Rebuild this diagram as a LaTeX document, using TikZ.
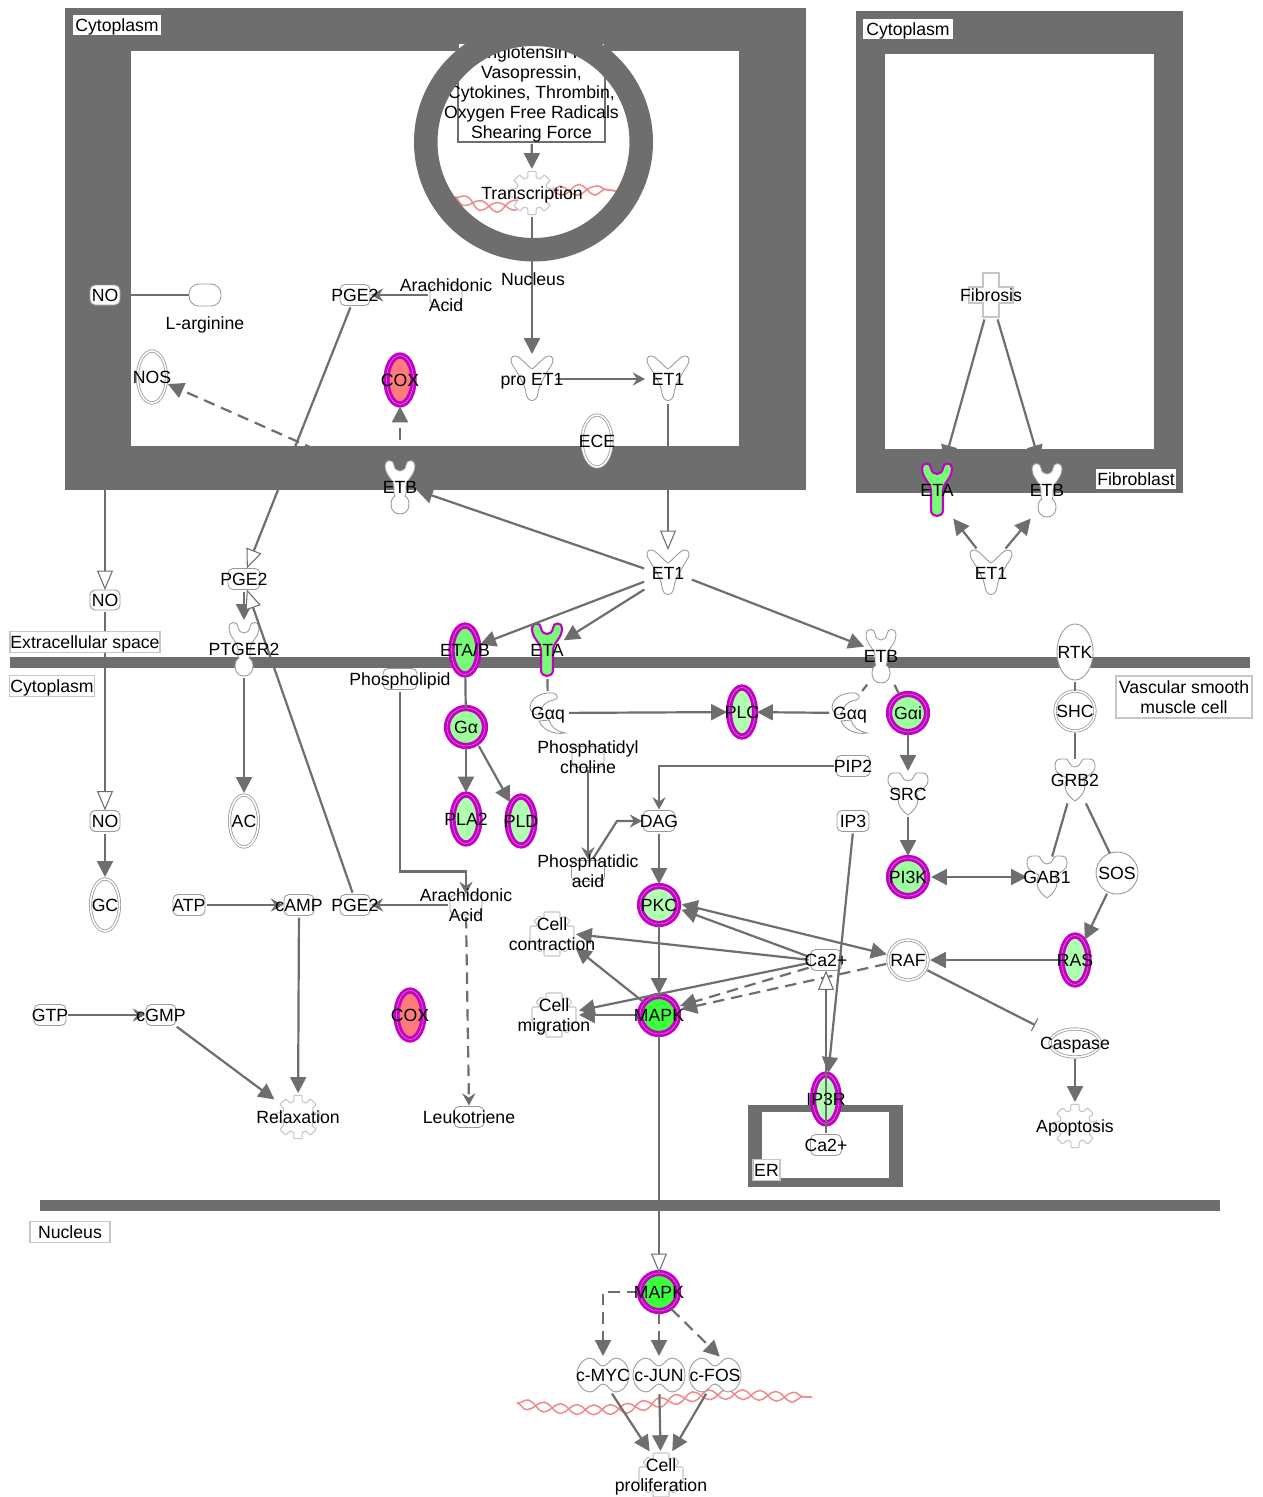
\documentclass[tikz,border=0pt]{standalone}
\usepackage{fontspec}
\setmainfont{Liberation Sans}
\usetikzlibrary{arrows.meta,shapes.geometric,decorations.pathmorphing}

\definecolor{bargray}{HTML}{6E6E6E}
\definecolor{edgegray}{HTML}{9A9A9A}
\definecolor{palegray}{HTML}{C6C6C6}
\definecolor{hitmag}{HTML}{C400C4}
\definecolor{hitpale}{HTML}{D870D8}
\definecolor{dnapink}{HTML}{F08A8A}
\definecolor{coxred}{HTML}{FF7A7A}
\definecolor{grnA}{HTML}{3CFF3C}
\definecolor{grnB}{HTML}{78FA78}
\definecolor{grnC}{HTML}{9CFF9C}
\definecolor{grnD}{HTML}{B0FFB0}

\tikzset{
	sz/.style 2 args={minimum width=#1*0.02cm,minimum height=#2*0.02cm},
	hold/.style={inner sep=0pt,outer sep=0pt},
	txt/.style={execute at begin node={\rule{0pt}{9.6pt}},execute at end node={\rule[-2.2pt]{0pt}{2.2pt}}},
	outl/.style={draw=edgegray,fill=white,line width=0.5pt},
	chem/.style={hold,outl,rounded corners=0.1cm},
	enz/.style={hold,ellipse,draw=edgegray,fill=white,line width=0.45pt,double=white,double distance=0.9pt},
	oval/.style={hold,ellipse,outl},
	hit/.style={hold,ellipse,draw=hitmag,fill=#1,line width=1.6pt,double=hitpale,double distance=0.35pt},
	tag/.style={hold,txt,fill=white,draw=palegray,line width=0.6pt},
	bar/.style={fill=bargray},
	link/.style={draw=bargray,line width=1.25pt,shorten <=0.04cm},
	act/.style={link,-{Triangle[length=9pt,width=9pt]},shorten >=0.04cm},
	small/.style={link,-{Stealth[length=7pt,width=7.5pt,inset=2.5pt]},shorten >=0.02cm},
	hollow/.style={link,-{Triangle[length=11pt,width=9pt,fill=white,line width=0.6pt]}},
	dashy/.style={dash pattern=on 6.5pt off 4pt},
	dna/.style={draw=dnapink,line width=0.85pt,decorate,decoration={snake,segment length=19pt,amplitude=2.8pt,#1}},
	dna/.default={},
	gearP/.pic={\filldraw[draw=palegray,fill=white,line width=0.6pt,rounded corners=0.02cm] (-11:22)
		\foreach \a in {0,45,...,315} {-- (\a-11:22) -- (\a+11:22) -- (\a+15:16) -- (\a+30:16)} -- cycle;},
	crossP/.pic={\filldraw[draw=palegray,fill=white,line width=0.6pt] (-8,-22) -- (8,-22) -- (8,-8) -- (22,-8) -- (22,8) -- (8,8)
		-- (8,22) -- (-8,22) -- (-8,8) -- (-22,8) -- (-22,-8) -- (-8,-8) -- cycle;},
	knobP/.pic={\filldraw[draw=palegray,fill=white,line width=0.6pt,rounded corners=0.02cm] (-8,-22) -- (8,-22) -- (8,-15) -- (13,-18) -- (18,-13) -- (14,-8)
		-- (22,-8) -- (22,8) -- (14,8) -- (18,13) -- (13,18) -- (8,15) -- (8,22) -- (-8,22) -- (-8,15) -- (-13,18)
		-- (-18,13) -- (-14,8) -- (-22,8) -- (-22,-8) -- (-14,-8) -- (-18,-13) -- (-13,-18) -- (-8,-15) -- cycle;},
	recepB/.pic={\filldraw[outl] (-15,-22) .. controls (-15,-28) and (-6,-28) .. (-6,-22) .. controls (-5,-14) and (5,-14) .. (6,-22)
		.. controls (6,-28) and (15,-28) .. (15,-22) .. controls (15,-11) and (7,-9) .. (6,0) -- (6,7) -- (5,9)
		.. controls (11,12) and (11,27) .. (0,27) .. controls (-11,27) and (-11,12) .. (-5,9) -- (-6,7) -- (-6,0)
		.. controls (-7,-9) and (-15,-11) .. (-15,-22) -- cycle;},
	recepA/.pic={\filldraw[draw=hitmag,fill=grnB,line width=1.2pt] (-15,-22) .. controls (-15,-28) and (-6,-28) .. (-6,-22) .. controls (-5,-14) and (5,-14) .. (6,-22)
		.. controls (6,-28) and (15,-28) .. (15,-22) .. controls (15,-11) and (7,-9) .. (6,0) -- (6,20)
		.. controls (6,28) and (-6,28) .. (-6,20) -- (-6,0)
		.. controls (-7,-9) and (-15,-11) .. (-15,-22) -- cycle;},
	ligV/.pic={\filldraw[outl] (0,-10) .. controls (-6,-14) and (-12,-23) .. (-17,-23) .. controls (-21,-23) and (-22,-19) .. (-20,-15)
		.. controls (-14,-5) and (-7,5) .. (-6,14) .. controls (-5,24) and (5,24) .. (6,14) .. controls (7,5) and (14,-5) .. (20,-15)
		.. controls (22,-19) and (21,-23) .. (17,-23) .. controls (12,-23) and (6,-14) .. (0,-10) -- cycle;},
	adaptP/.pic={\filldraw[outl] (-20,-14) .. controls (-20,-19) and (-18,-21) .. (-14,-21) -- (-9,-21) .. controls (-6,-21) and (-6,-13) .. (0,-13)
		.. controls (6,-13) and (6,-21) .. (9,-21) -- (14,-21) .. controls (18,-21) and (20,-19) .. (20,-14)
		.. controls (20,-6) and (12,-4) .. (8,-2) .. controls (12,6) and (10,14) .. (0,21) .. controls (-10,14) and (-12,6) .. (-8,-2)
		.. controls (-12,-4) and (-20,-6) .. (-20,-14) -- cycle;},
	gprotP/.pic={\filldraw[outl] (-18,-6) .. controls (-17,-16) and (-6,-21) .. (5,-20) .. controls (10,-19) and (11,-14) .. (6,-13)
		.. controls (-3,-12) and (-7,-6) .. (-9,2) .. controls (-14,2) and (-18,-1) .. (-18,-6) -- cycle;
		\filldraw[outl] (-9,8) .. controls (-6,16) and (5,22) .. (17,20) .. controls (8,18) and (3,14) .. (1,7) -- cycle;},
	peanutP/.pic={\filldraw[outl] (-26,0) .. controls (-26,-11) and (-18,-17) .. (-13,-17) .. controls (-7,-17) and (-5,-9) .. (0,-9)
		.. controls (5,-9) and (7,-17) .. (13,-17) .. controls (18,-17) and (26,-11) .. (26,0)
		.. controls (26,11) and (18,17) .. (13,17) .. controls (7,17) and (5,9) .. (0,9)
		.. controls (-5,9) and (-7,17) .. (-13,17) .. controls (-18,17) and (-26,11) .. (-26,0) -- cycle;},
}
% holder node with a drawn glyph on it
\newcommand{\glyph}[5]{\node[hold,sz={#3}{#4}] (#1) at (#2) {}; \pic at (#1) {#5};}
\newcommand{\dnastrand}[1]{\draw[dna] #1; \draw[dna=mirror] #1;}

\begin{document}
\begin{tikzpicture}[x=0.02cm,y=-0.02cm,every node/.style={font=\fontsize{10.05}{11.4}\selectfont,align=center}]
	\useasboundingbox (0,0) rectangle (1262,1497);
	\fill[white] (0,0) rectangle (1262,1497);
	% compartments
	\fill[bar] (65,8) rectangle (806,490);
	\fill[white] (131,51) rectangle (739,446);
	\fill[bar] (856,11) rectangle (1183,493);
	\fill[white] (885,54) rectangle (1154,449);
	\fill[bar] (10,657) rectangle (1250,668);
	\fill[bar] (40,1200) rectangle (1220,1211);
	\fill[bar] (748,1105) rectangle (903,1187);
	\fill[white] (762,1112) rectangle (889,1178);

	% nucleus of the top cell
	\node[hold,fill=white,draw=bargray,line width=1.15pt,sz={147}{99}] (Stim) at (531.5,92.5) {};
	\node[txt,yshift=-0.03cm] (Stim-t) at (Stim) {Angiotensin II,\\Vasopressin,\\Cytokines, Thrombin,\\Oxygen Free Radicals\\Shearing Force};
	\dnastrand{(455,197) .. controls (475,205) and (495,207) .. (513,200) .. controls (530,192) and (550,186) .. (580,188) .. controls (595,188) and (610,190) .. (622,192)}
	\glyph{Transc}{532,193}{44}{44}{gearP}
	\glyph{proET}{532,379}{44}{46}{ligV}
	\draw[act] (Stim) -- (Transc);
	\draw[act] (Transc) -- (proET);
	\path[bar,even odd rule] (533.5,142) circle[radius=119.5] (533.5,142) circle[radius=96];

	% molecules
	\node[chem,sz={30}{20}] (NOa) at (105,295) {};
	\node[chem,rounded corners=0.2cm,sz={32}{22}] (Larg) at (205,295) {};
	\node[chem,sz={30}{21}] (PGEa) at (355,295) {};
	\node[chem,sz={32}{20}] (Ara) at (446,295) {};
	\node[enz,sz={29}{52}] (NOS) at (152,377) {};
	\node[hit=coxred,sz={27}{49}] (COXa) at (400,380) {};
	\node[enz,sz={30}{52}] (ECE) at (597,441) {};
	\glyph{ETa}{668,379}{44}{46}{ligV}
	\glyph{ETBa}{400,487}{30}{54}{recepB}
	\glyph{Fib}{991,295}{44}{45}{crossP}
	\glyph{ETAr}{937,490}{30}{54}{recepA}
	\glyph{ETBr}{1047,490}{30}{54}{recepB}
	\glyph{ETr}{991,573}{44}{46}{ligV}
	\glyph{ETb}{668,573}{44}{46}{ligV}
	\node[chem,sz={30}{20}] (NOb) at (105,600) {};
	\node[chem,sz={32}{21}] (PGEb) at (244,579) {};
	\glyph{PTGER}{244,649}{30}{54}{recepB}
	\node[hit=grnB,sz={27}{49}] (ETAB) at (465,650) {};
	\glyph{ETAm}{547,650}{30}{54}{recepA}
	\glyph{ETBm}{881,656}{30}{54}{recepB}
	\node[oval,sz={36}{56}] (RTK) at (1075,652) {};
	\node[chem,sz={34}{21}] (Plipid) at (400,679) {};
	\node[hit=grnC,sz={38}{38}] (Ga) at (466,727) {};
	\glyph{Gqa}{548,713}{38}{44}{gprotP}
	\glyph{Gqb}{850,713}{38}{44}{gprotP}
	\node[hit=grnD,sz={26}{49}] (PLC) at (742,712) {};
	\node[hit=grnC,sz={38}{38}] (Gai) at (908,713) {};
	\node[enz,sz={40}{40}] (SHC) at (1075,711) {};
	\node[chem,sz={32}{21}] (Pchol) at (588,757) {};
	\node[chem,sz={34}{21}] (PIP) at (853,766) {};
	\glyph{GRB}{1075,780}{42}{43}{adaptP}
	\glyph{SRC}{908,794}{40}{42}{adaptP}
	\node[hit=grnD,sz={27}{49}] (PLA) at (466,819) {};
	\node[hit=grnD,sz={27}{49}] (PLD) at (521,821) {};
	\node[chem,sz={30}{21}] (NOc) at (105,821) {};
	\node[enz,sz={29}{52}] (AC) at (244,821) {};
	\node[chem,sz={32}{21}] (DAG) at (659,821) {};
	\node[chem,sz={32}{21}] (IPt) at (853,821) {};
	\node[chem,sz={33}{21}] (Pacid) at (588,871) {};
	\node[hit=grnC,sz={38}{38}] (PIK) at (908,877) {};
	\glyph{GAB}{1047,877}{40}{41}{adaptP}
	\node[oval,sz={42}{42}] (SOS) at (1117,873) {};
	\node[enz,sz={29}{52}] (GC) at (105,905) {};
	\node[chem,sz={32}{21}] (ATP) at (189,905) {};
	\node[chem,sz={30}{21}] (cAMP) at (299,905) {};
	\node[chem,sz={30}{21}] (PGEc) at (355,905) {};
	\node[chem,sz={32}{20}] (Arb) at (466,905) {};
	\node[hit=grnD,sz={38}{38}] (PKC) at (659,905) {};
	\glyph{CellC}{552,934}{44}{44}{knobP}
	\node[chem,sz={31}{21}] (Caa) at (826,960) {};
	\node[enz,sz={40}{40}] (RAF) at (908,960) {};
	\node[hit=grnD,sz={27}{49}] (RAS) at (1075,960) {};
	\node[chem,sz={32}{21}] (GTP) at (50,1015) {};
	\node[chem,sz={30}{21}] (cGMP) at (161,1015) {};
	\node[hit=coxred,sz={27}{49}] (COXb) at (410,1015) {};
	\glyph{CellM}{554,1015}{46}{44}{knobP}
	\node[hit=grnA,sz={38}{38}] (MAPKa) at (659,1015) {};
	\node[enz,sz={50}{28}] (Casp) at (1075,1043) {};
	\node[hit=grnD,sz={26}{49}] (IPR) at (826,1099) {};
	\glyph{Relax}{298,1117}{44}{44}{gearP}
	\node[chem,sz={30}{21}] (Leuk) at (469,1117) {};
	\glyph{Apop}{1075,1126}{44}{44}{gearP}
	\node[chem,sz={31}{21}] (Cab) at (826,1145) {};
	\node[hit=grnA,sz={38}{38}] (MAPKb) at (659,1292) {};
	\dnastrand{(517,1403) .. controls (545,1408) and (590,1410) .. (617,1407) .. controls (640,1404) and (680,1394) .. (707,1393) .. controls (740,1392) and (780,1396) .. (812,1397)}
	\glyph{MYC}{603,1375}{52}{34}{peanutP}
	\glyph{JUN}{659,1375}{52}{34}{peanutP}
	\glyph{FOS}{715,1375}{52}{34}{peanutP}
	\glyph{CellP}{661,1475}{44}{44}{knobP}

	\coordinate (PaBend) at (617,821);
	\coordinate (CaspBar) at (1035,1025);
	% top cell
	\draw[link] (NOa) -- (Larg);
	\draw[small] (Ara) -- (PGEa);
	\draw[hollow] (PGEa.-110) -- (PGEb.75);
	\draw[act,dashy] (ETBa) -- (NOS);
	\draw[act,dashy] (ETBa.north) -- (COXa.south);
	\draw[small] (proET) -- (ETa);
	\draw[hollow] (ETa) -- (ETb);
	\draw[act] (ETb.170) -- (ETBa.-10);
	\draw[act] (ETb.200) -- (ETAB.20);
	\draw[act] (ETb.215) -- (ETAm.30);
	\draw[act] (ETb.-15) -- (ETBm.150);
	% fibroblast
	\draw[act] (Fib.-105) -- (ETAr.75);
	\draw[act] (Fib.-75) -- (ETBr.105);
	\draw[act] (ETr.120) -- (ETAr.south east);
	\draw[act] (ETr.60) -- (ETBr.south west);
	% left column
	\draw[hollow] (NOa) -- (NOb);
	\draw[hollow] (NOb) -- (NOc);
	\draw[act] (NOc) -- (GC);
	\draw[act] (PGEb) -- (PTGER);
	\draw[act] (PTGER) -- (AC);
	\draw[hollow] (PGEc.100) -- (PGEb.-75);
	\draw[small] (Plipid.south) -- ++(0,182) -| (Arb.north);
	\draw[small] (Arb) -- (PGEc);
	\draw[small,dashy] (Arb.south) -- (Leuk.north);
	\draw[small] (ATP) -- (cAMP);
	\draw[act] (cAMP) -- (Relax);
	\draw[small] (GTP) -- (cGMP);
	\draw[act] (cGMP) -- (Relax);
	% middle
	\draw[link] (ETAB) -- (Ga);
	\draw[act] (Ga) -- (PLA);
	\draw[act,shorten <=0.08cm] (Ga.-55) -- (PLD.120);
	\draw[link] (ETAm) -- (Gqa);
	\draw[act] (Gqa) -- (PLC);
	\draw[act] (Gqb) -- (PLC);
	\draw[link] (ETBm.-115) -- (Gqb.61);
	\draw[link,shorten >=0.06cm] (ETBm.-65) -- (Gai.115);
	\draw[act] (Gai) -- (SRC);
	\draw[act] (SRC) -- (PIK);
	\draw[link,{Triangle[length=9pt,width=9pt]}-{Triangle[length=9pt,width=9pt]},shorten <=0.08cm] (PIK) -- (GAB);
	\draw[small] (PIP.west) -| (DAG.north);
	\draw[small] (Pchol.south) -- (Pacid.north);
	\draw[small] (Pacid.70) -- (PaBend) -- (DAG.west);
	\draw[act] (DAG) -- (PKC);
	\draw[act] (PKC) -- (MAPKa);
	\draw[link,{Triangle[length=9pt,width=9pt]}-{Triangle[length=9pt,width=9pt]},shorten <=0.08cm,shorten >=0.04cm] (PKC.5) -- (RAF.165);
	\draw[act,shorten >=0.08cm] (Caa.170) -- (PKC.-10);
	\draw[act] (Caa.180) -- (CellC.east);
	\draw[act] (MAPKa.140) -- (CellC.-30);
	\draw[act] (Caa.190) -- (CellM.10);
	\draw[act] (MAPKa) -- (CellM);
	\draw[act,dashy,shorten >=0.08cm] (Caa.205) -- (MAPKa.25);
	\draw[act,dashy,shorten >=0.08cm] (RAF.190) -- (MAPKa.15);
	\draw[act] (IPt.south) -- (IPR.85);
	\draw[hollow] (Cab) -- (Caa);
	% right column
	\draw[link] (RTK) -- (SHC);
	\draw[link] (SHC) -- (GRB);
	\draw[link] (GRB.-108) -- (GAB.76);
	\draw[link] (GRB.-65) -- (SOS.110);
	\draw[act] (SOS) -- (RAS);
	\draw[act] (RAS) -- (RAF);
	\draw[link,-{Bar[width=8pt,line width=0.6pt]}] (RAF.-28) -- (CaspBar);
	\draw[act] (Casp) -- (Apop);
	% nucleus
	\draw[hollow] (MAPKa) -- (MAPKb);
	\draw[act,dashy] (MAPKb.west) -| (MYC.north);
	\draw[act,dashy] (MAPKb) -- (JUN);
	\draw[act,dashy] (MAPKb.-55) -- (FOS.70);
	\draw[act] (MYC.-65) -- (CellP.115);
	\draw[act] (JUN) -- (CellP);
	\draw[act] (FOS.-115) -- (CellP.65);

	% tags
	\node[hold,txt,fill=white,sz={88}{19}] (CytoA) at (117,25) {Cytoplasm};
	\node[hold,txt,fill=white,sz={90}{19}] (CytoB) at (908,29) {Cytoplasm};
	\node[hold,txt,fill=white,sz={80}{19}] (Fblast) at (1136,479) {Fibroblast};
	\node[tag,sz={150}{20}] (Extra) at (85,642) {Extracellular space};
	\node[tag,sz={85}{21}] (CytoC) at (52,686) {Cytoplasm};
	\node[tag,sz={80}{21}] (NucTag) at (70,1232) {Nucleus};
	\node[tag,sz={136}{42}] (Vasc) at (1184,697) {};
	\node[txt,yshift=-0.05cm] (Vasc-t) at (Vasc) {Vascular smooth\\muscle cell};
	\node[tag,sz={27}{20}] (ERtag) at (766.5,1170) {ER};
	\node[txt] (Nuc-t) at (533,279) {Nucleus};
	\node[txt] (Larg-t) at (205,323) {L-arginine};
	% texts on top
	\foreach \n/\t in {NOa/NO,NOb/NO,NOc/NO,GC/GC,AC/AC,NOS/NOS,COXa/COX,COXb/COX,ECE/ECE,PGEa/PGE2,PGEb/PGE2,PGEc/PGE2,
		Transc/Transcription,proET/{pro ET1},ETa/ET1,ETb/ET1,ETr/ET1,
		ETBa/ETB,ETBm/ETB,ETBr/ETB,ETAm/ETA,ETAr/ETA,Fib/Fibrosis,PTGER/PTGER2,ETAB/{ETA/B},RTK/RTK,Plipid/Phospholipid,
		Ga/Gα,Gqa/Gαq,Gqb/Gαq,PLC/PLC,Gai/Gαi,SHC/SHC,PIP/PIP2,GRB/GRB2,SRC/SRC,PLA/PLA2,PLD/PLD,
		DAG/DAG,IPt/IP3,PIK/PI3K,GAB/GAB1,SOS/SOS,ATP/ATP,cAMP/cAMP,PKC/PKC,
		Caa/Ca2+,RAF/RAF,RAS/RAS,GTP/GTP,cGMP/cGMP,MAPKa/MAPK,Casp/Caspase,IPR/IP3R,Relax/Relaxation,
		Leuk/Leukotriene,Apop/Apoptosis,Cab/Ca2+,MAPKb/MAPK,MYC/c-MYC,JUN/c-JUN,FOS/c-FOS}
		\node[txt] (\n-t) at (\n) {\t};
	% two lines sit a little lower
	\foreach \n/\t in {Ara/{Arachidonic\\Acid},Arb/{Arachidonic\\Acid},Pchol/{Phosphatidyl\\choline},Pacid/{Phosphatidic\\acid},
		CellC/{Cell\\contraction},CellM/{Cell\\migration},CellP/{Cell\\proliferation}}
		\node[txt,yshift=-0.05cm] (\n-t) at (\n) {\t};
\end{tikzpicture}
\end{document}
